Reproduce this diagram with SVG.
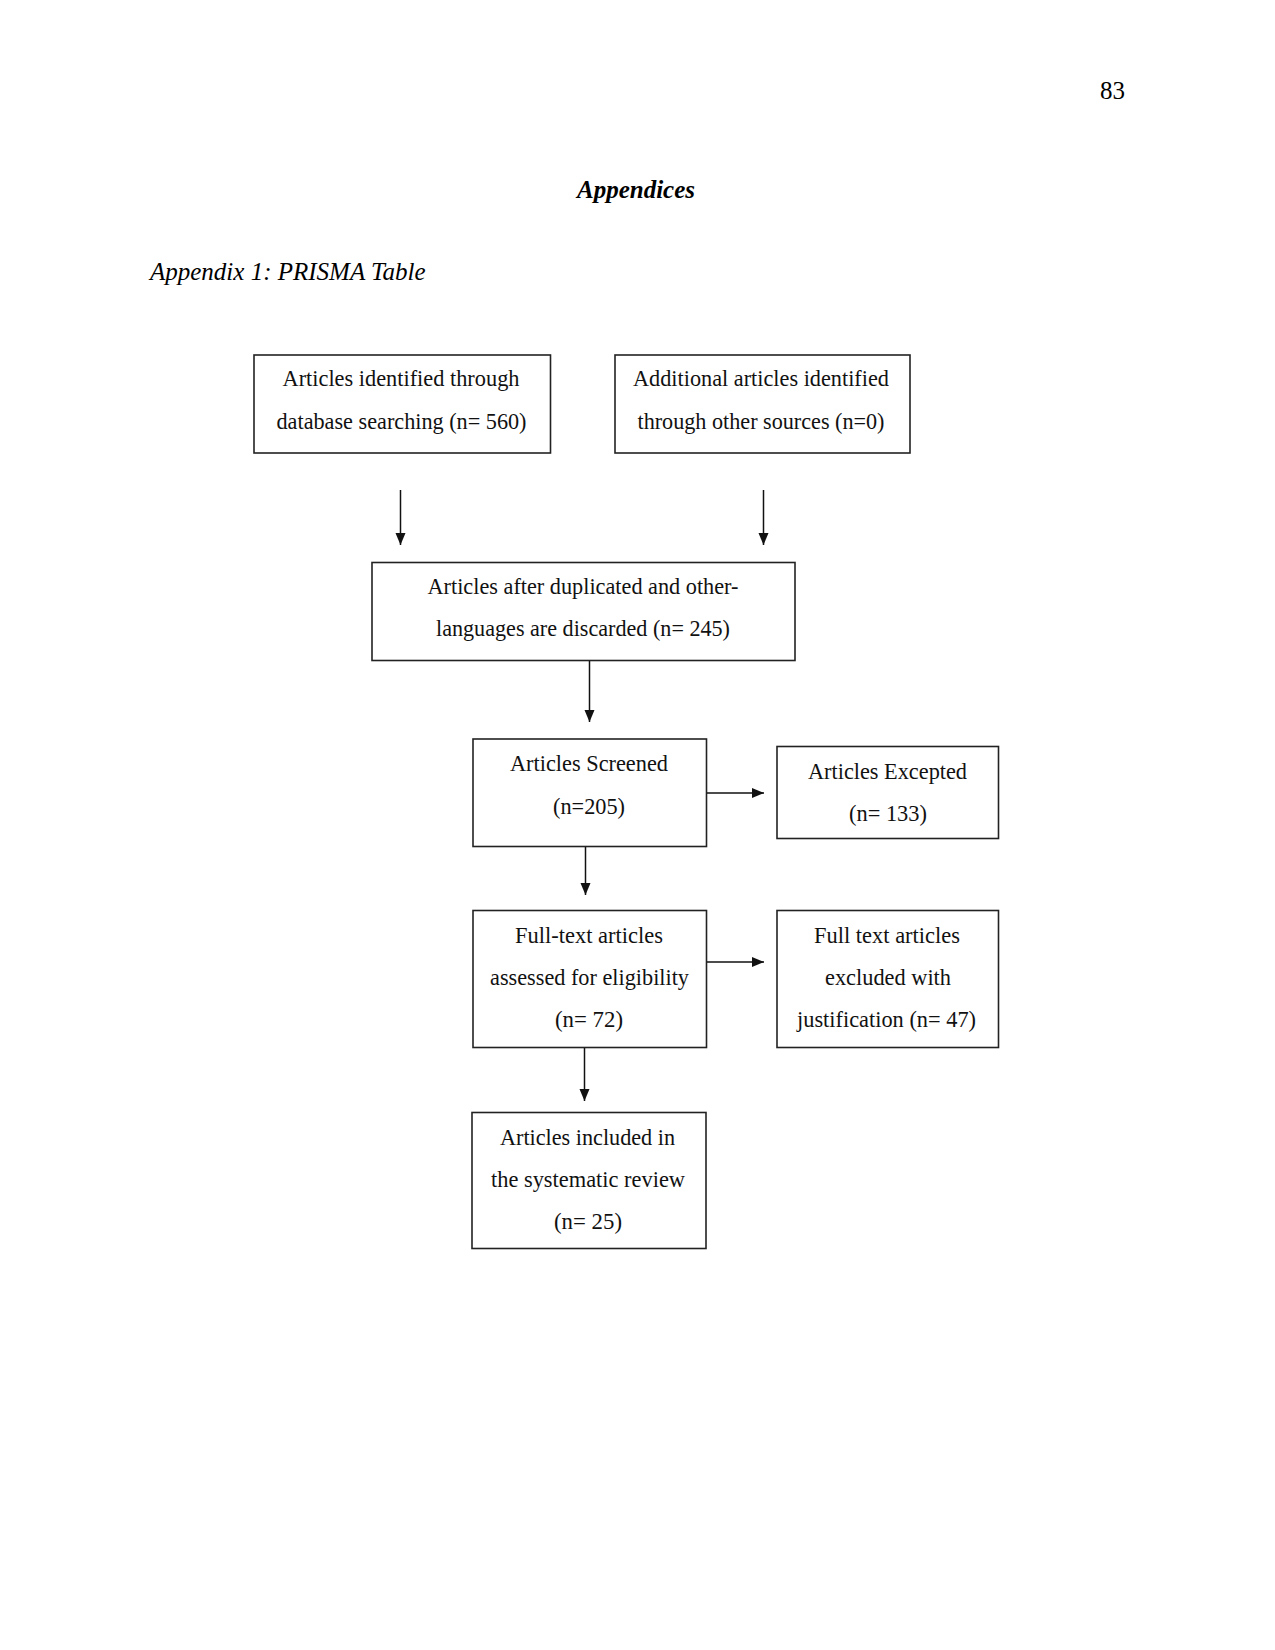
<svg xmlns="http://www.w3.org/2000/svg" width="1275" height="1650" viewBox="0 0 1275 1650">
<style>
.page{font-family:"Liberation Serif","Times New Roman",serif;font-size:25px;fill:#000}
.box{fill:#fff;stroke:#222;stroke-width:1.6}
.t{font-family:"Liberation Serif","Times New Roman",serif;font-size:22.5px;fill:#111;text-anchor:middle}
.edge{stroke:#111;stroke-width:1.5;fill:none;marker-end:url(#ah)}
</style>
<defs>
<marker id="ah" viewBox="0 0 12 12" refX="12" refY="6" markerWidth="12" markerHeight="12" markerUnits="userSpaceOnUse" orient="auto">
<path d="M0,1 L12,6 L0,11 Z" fill="#111"/>
</marker>
</defs>
<rect width="1275" height="1650" fill="#fff"/>
<text class="page" x="1125" y="99" text-anchor="end">83</text>
<text class="page" x="636" y="198" text-anchor="middle" font-weight="bold" font-style="italic">Appendices</text>
<text class="page" x="150" y="280" font-style="italic">Appendix 1: PRISMA Table</text>

<g id="connectors">
<line class="edge" x1="400.5" y1="490" x2="400.5" y2="545"/>
<line class="edge" x1="763.5" y1="490" x2="763.5" y2="545"/>
<line class="edge" x1="589.5" y1="660" x2="589.5" y2="722"/>
<line class="edge" x1="707" y1="793" x2="764" y2="793"/>
<line class="edge" x1="585.5" y1="847" x2="585.5" y2="895"/>
<line class="edge" x1="707" y1="962" x2="764" y2="962"/>
<line class="edge" x1="584.5" y1="1047" x2="584.5" y2="1101"/>
</g>

<g id="n1">
<rect class="box" x="254" y="355" width="296.5" height="98"/>
<text class="t" x="401" y="386" textLength="237" lengthAdjust="spacingAndGlyphs">Articles identified through</text>
<text class="t" x="401.5" y="429" textLength="250" lengthAdjust="spacingAndGlyphs">database searching (n= 560)</text>
</g>
<g id="n2">
<rect class="box" x="615" y="355" width="295" height="98"/>
<text class="t" x="761" y="386" textLength="256" lengthAdjust="spacingAndGlyphs">Additional articles identified</text>
<text class="t" x="761" y="429" textLength="247" lengthAdjust="spacingAndGlyphs">through other sources (n=0)</text>
</g>
<g id="n3">
<rect class="box" x="372" y="562.5" width="423" height="98"/>
<text class="t" x="583" y="594" textLength="311" lengthAdjust="spacingAndGlyphs">Articles after duplicated and other-</text>
<text class="t" x="583" y="636" textLength="294" lengthAdjust="spacingAndGlyphs">languages are discarded (n= 245)</text>
</g>
<g id="n4">
<rect class="box" x="473" y="739" width="233.5" height="107.5"/>
<text class="t" x="589" y="771" textLength="158" lengthAdjust="spacingAndGlyphs">Articles Screened</text>
<text class="t" x="589" y="814" textLength="72" lengthAdjust="spacingAndGlyphs">(n=205)</text>
</g>
<g id="n5">
<rect class="box" x="777" y="746.5" width="221.5" height="92"/>
<text class="t" x="887.5" y="779" textLength="159" lengthAdjust="spacingAndGlyphs">Articles Excepted</text>
<text class="t" x="888" y="821" textLength="78" lengthAdjust="spacingAndGlyphs">(n= 133)</text>
</g>
<g id="n6">
<rect class="box" x="473" y="910.5" width="233.5" height="137"/>
<text class="t" x="589" y="943" textLength="148" lengthAdjust="spacingAndGlyphs">Full-text articles</text>
<text class="t" x="589.5" y="985" textLength="199" lengthAdjust="spacingAndGlyphs">assessed for eligibility</text>
<text class="t" x="589" y="1027" textLength="68" lengthAdjust="spacingAndGlyphs">(n= 72)</text>
</g>
<g id="n7">
<rect class="box" x="777" y="910.5" width="221.5" height="137"/>
<text class="t" x="887" y="943" textLength="146" lengthAdjust="spacingAndGlyphs">Full text articles</text>
<text class="t" x="888" y="985" textLength="126" lengthAdjust="spacingAndGlyphs">excluded with</text>
<text class="t" x="886.5" y="1027" textLength="179" lengthAdjust="spacingAndGlyphs">justification (n= 47)</text>
</g>
<g id="n8">
<rect class="box" x="472" y="1112.5" width="234" height="136"/>
<text class="t" x="587.5" y="1145" textLength="175" lengthAdjust="spacingAndGlyphs">Articles included in</text>
<text class="t" x="588" y="1187" textLength="194" lengthAdjust="spacingAndGlyphs">the systematic review</text>
<text class="t" x="588" y="1229" textLength="68" lengthAdjust="spacingAndGlyphs">(n= 25)</text>
</g>
</svg>
